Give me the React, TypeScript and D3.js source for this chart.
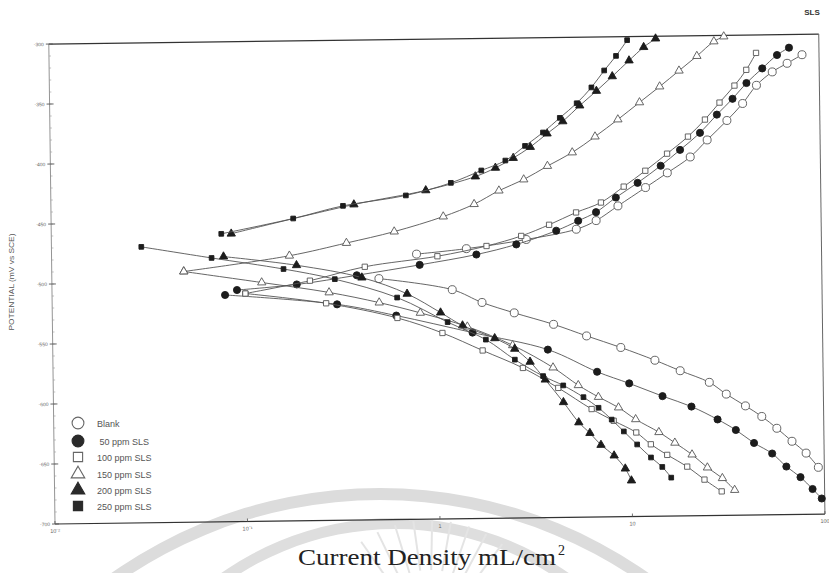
import React from 'react';
import * as d3 from 'd3';

// ---------- data: [current density (mA/cm²), potential (mV vs SCE)] ----------
const blankAnodic = [[0.787,-479],[1.43,-475],[2.93,-468],[5.34,-460],[6.78,-453],[8.82,-441],[12.3,-426],[16.0,-414],[21.1,-401],[25.9,-387],[32.9,-371],[39.8,-357],[47.1,-342],[57.0,-331],[68.2,-324],[81.6,-317]];
const blankCathodic = [[0.5,-499],[1.2,-509],[1.71,-520],[2.51,-529],[4.01,-539],[5.94,-549],[8.93,-559],[13.4,-570],[18.1,-579],[25.6,-589],[31.3,-599],[39.3,-609],[47.7,-618],[57.0,-628],[68.2,-639],[80.6,-649],[93.1,-661]];

const ppm50Anodic = [[0.0914,-507],[0.187,-503],[0.384,-496],[0.816,-488],[1.61,-480],[2.6,-472],[4.2,-461],[5.47,-453],[6.78,-446],[8.61,-434],[11.2,-422],[14.8,-408],[18.7,-395],[23.8,-381],[29.2,-366],[35.3,-353],[41.8,-340],[50.6,-328],[60.5,-317],[69.9,-311]];
const ppm50Cathodic = [[0.0792,-511],[0.302,-520],[0.612,-530],[1.52,-545],[3.73,-560],[6.7,-579],[9.82,-589],[14.6,-600],[20.6,-609],[28.1,-620],[34.9,-629],[43.3,-640],[53.7,-649],[63.5,-660],[75.1,-669],[86.6,-679],[96.5,-687]];

const ppm100Anodic = [[0.101,-510],[0.219,-500],[0.423,-489],[1.01,-481],[1.82,-473],[2.76,-465],[3.86,-456],[5.34,-446],[7.2,-438],[9.48,-425],[12.3,-412],[16.0,-398],[20.6,-384],[25.3,-370],[30.2,-356],[36.2,-342],[41.8,-329],[47.1,-315]];
const ppm100Cathodic = [[0.101,-510],[0.265,-519],[0.62,-532],[1.06,-545],[1.71,-560],[2.76,-575],[4.2,-592],[6.24,-610],[8.11,-620],[10.6,-630],[12.6,-640],[15.3,-649],[19.4,-659],[23.8,-670],[29.2,-680]];

const ppm150Anodic = [[0.0485,-491],[0.172,-479],[0.341,-469],[0.605,-460],[1.09,-448],[1.58,-438],[2.13,-427],[2.87,-418],[3.82,-407],[5.15,-396],[6.78,-383],[8.93,-369],[11.6,-355],[14.8,-342],[18.7,-329],[23.2,-317],[28.5,-305],[32.1,-301]];
const ppm150Cathodic = [[0.0485,-491],[0.123,-501],[0.275,-510],[0.5,-519],[0.816,-528],[1.43,-540],[2.45,-556],[3.96,-575],[5.34,-590],[6.78,-600],[8.61,-609],[10.55,-619],[13.9,-630],[16.8,-639],[20.6,-649],[24.7,-660],[29.5,-669],[34.1,-679]];

const ppm200Anodic = [[0.0861,-460],[0.375,-437],[0.888,-426],[1.61,-415],[2.05,-408],[2.54,-400],[3.12,-391],[3.82,-380],[4.62,-370],[5.67,-357],[6.94,-345],[8.41,-333],[10.3,-320],[12.3,-309],[14.2,-302]];
const ppm200Cathodic = [[0.0782,-479],[0.187,-487],[0.408,-498],[0.699,-512],[1.04,-528],[1.35,-539],[1.98,-550],[2.51,-559],[3.01,-570],[3.6,-585],[4.46,-604],[5.34,-621],[6.09,-630],[6.94,-640],[8.11,-649],[9.25,-660],[9.94,-670]];

const ppm250Anodic = [[0.0764,-460],[0.181,-448],[0.329,-438],[0.699,-430],[1.2,-420],[1.73,-410],[2.31,-402],[2.93,-390],[3.64,-379],[4.46,-367],[5.47,-355],[6.54,-342],[7.64,-328],[8.82,-316],[10.1,-303]];
const ppm250Cathodic = [[0.0293,-470],[0.0678,-480],[0.16,-490],[0.295,-499],[0.62,-515],[1.13,-536],[1.78,-551],[2.51,-568],[3.51,-582],[4.46,-590],[5.67,-600],[6.78,-609],[7.92,-619],[9.14,-629],[10.7,-640],[12.6,-651],[14.4,-659],[16.0,-668]];

const seriesNames = ['Blank', ' 50 ppm SLS', '100 ppm SLS', '150 ppm SLS', '200 ppm SLS', '250 ppm SLS'];
const seriesShapes = ['circle', 'circle', 'square', 'triangle', 'triangle', 'square'];
const seriesFilled = [false, true, false, false, true, true];
const seriesBranches = [
  [blankAnodic, blankCathodic],
  [ppm50Anodic, ppm50Cathodic],
  [ppm100Anodic, ppm100Cathodic],
  [ppm150Anodic, ppm150Cathodic],
  [ppm200Anodic, ppm200Cathodic],
  [ppm250Anodic, ppm250Cathodic],
];

const potentialTicks = [-300, -350, -400, -450, -500, -550, -600, -650, -700];
const currentTicks = [0.01, 0.1, 1, 10, 100];
const currentTickLabels = ['10⁻²', '10⁻¹', '1', '10', '100'];

const W = 829, H = 573;
const L = 55, R = 825, T = 44, B = 524;

function symbolPath(shape: string, size: number) {
  const t = shape === 'circle' ? d3.symbolCircle : shape === 'square' ? d3.symbolSquare : d3.symbolTriangle;
  return d3.symbol().type(t).size(size)() as string;
}

export default function App() {
  const x = d3.scaleLog().domain([0.01, 100]).range([L, R]);
  const y = d3.scaleLinear().domain([-300, -700]).range([T, B]);
  const line = d3.line<number[]>().x(d => x(d[0])).y(d => y(d[1])).curve(d3.curveCatmullRom.alpha(0.5));

  const minor: number[] = d3.range(-300, -701, -10);

  const markSize = (shape: string, filled: boolean) =>
    shape === 'circle' ? (filled ? 40 : 50) : shape === 'square' ? (filled ? 22 : 28) : 30;

  const rays = d3.range(0, 9).map(k => (-125 + k * 9) * Math.PI / 180);

  return (
    <svg width={W} height={H} style={{ position: 'absolute', left: 0, top: 0, background: '#fff' }}
      fontFamily="Liberation Sans, Arial, sans-serif">
      {/* watermark */}
      <g>
        <path d={d3.arc()({ innerRadius: 455, outerRadius: 467, startAngle: -Math.PI / 2, endAngle: Math.PI / 2 }) as string}
          transform="translate(380,955)" fill="#dcdcdc" />
        <path d={d3.arc()({ innerRadius: 291, outerRadius: 302, startAngle: -Math.PI / 2, endAngle: Math.PI / 2 }) as string}
          transform="translate(395,820)" fill="#dedede" />
        {rays.map((a, i) => (
          <line key={i} x1={430 + 70 * Math.cos(a)} y1={640 + 70 * Math.sin(a)}
            x2={430 + 120 * Math.cos(a)} y2={640 + 120 * Math.sin(a)} strokeWidth={2} stroke="#e4e4e4" />
        ))}
      </g>

      <g transform={`rotate(-0.74 ${L} ${B})`}>
        {/* frame */}
        <line x1={L} x2={R} y1={T} y2={T} stroke="#333" strokeWidth={1.2} />
        <line x1={R} x2={R} y1={T} y2={B} stroke="#666" strokeWidth={1} />
        <line x1={L} x2={R} y1={B} y2={B} stroke="#333" strokeWidth={1.2} />
        <line x1={L} x2={L} y1={T} y2={B} stroke="#888" strokeWidth={0.9} />
        {minor.map(v => (
          <line key={v} x1={L} x2={L + 2} y1={y(v)} y2={y(v)} stroke="#999" strokeWidth={0.6} />
        ))}
        {potentialTicks.map(v => (
          <g key={v}>
            <line x1={L - 3} x2={L + 4} y1={y(v)} y2={y(v)} stroke="#555" strokeWidth={0.9} />
            <text x={L - 5} y={y(v) + 2} fontSize={5} fill="#666" textAnchor="end">{v}</text>
          </g>
        ))}
        {currentTicks.map((v, i) => (
          <g key={v}>
            <line x1={x(v)} x2={x(v)} y1={B} y2={B - 3} stroke="#555" strokeWidth={0.8} />
            <text x={x(v)} y={B + 9} fontSize={5.5} fill="#666" textAnchor="middle">{currentTickLabels[i]}</text>
          </g>
        ))}

        {/* curves */}
        {seriesBranches.map((branches, si) => (
          <g key={si}>
            {branches.map((br, bi) => (
              <path key={bi} d={line(br) as string} fill="none" stroke="#555" strokeWidth={0.9} />
            ))}
            {branches.map((br, bi) =>
              br.map((p, pi) => (
                <path key={`${bi}-${pi}`} d={symbolPath(seriesShapes[si], markSize(seriesShapes[si], seriesFilled[si]))}
                  transform={`translate(${x(p[0])},${y(p[1])})`}
                  fill={seriesFilled[si] ? '#1c1c1c' : '#fff'}
                  stroke={seriesFilled[si] ? '#1c1c1c' : '#555'} strokeWidth={0.9} />
              ))
            )}
          </g>
        ))}
      </g>

      {/* legend */}
      <g>
        {seriesNames.map((n, i) => {
          const yy = [423, 441, 457, 474, 490, 506][i];
          const sh = seriesShapes[i];
          const sz = sh === 'circle' ? 110 : sh === 'square' ? 85 : 80;
          return (
            <g key={n}>
              <path d={symbolPath(sh, sz)} transform={`translate(78,${yy})`}
                fill={seriesFilled[i] ? '#2a2a2a' : '#fff'} stroke={seriesFilled[i] ? '#2a2a2a' : '#666'} strokeWidth={1.1} />
              <text x={97} y={yy + 3.5} fontSize={9} fill="#555" style={{ whiteSpace: 'pre' }}>{n}</text>
            </g>
          );
        })}
      </g>

      {/* titles */}
      <text x={812} y={15} fontSize={8} fontWeight="bold" fill="#333" textAnchor="middle">SLS</text>
      <text transform="translate(14,282) rotate(-90)" fontSize={7.5} fill="#555" textAnchor="middle"
        textLength={97} lengthAdjust="spacingAndGlyphs">POTENTIAL (mV vs SCE)</text>
      <text x={298} y={565} fontSize={23} fontFamily="Liberation Serif, Times New Roman, serif" fill="#222"
        textLength={258} lengthAdjust="spacingAndGlyphs">Current Density mL/cm</text>
      <text x={558} y={555} fontSize={14} fontFamily="Liberation Serif, Times New Roman, serif" fill="#222">2</text>
    </svg>
  );
}
